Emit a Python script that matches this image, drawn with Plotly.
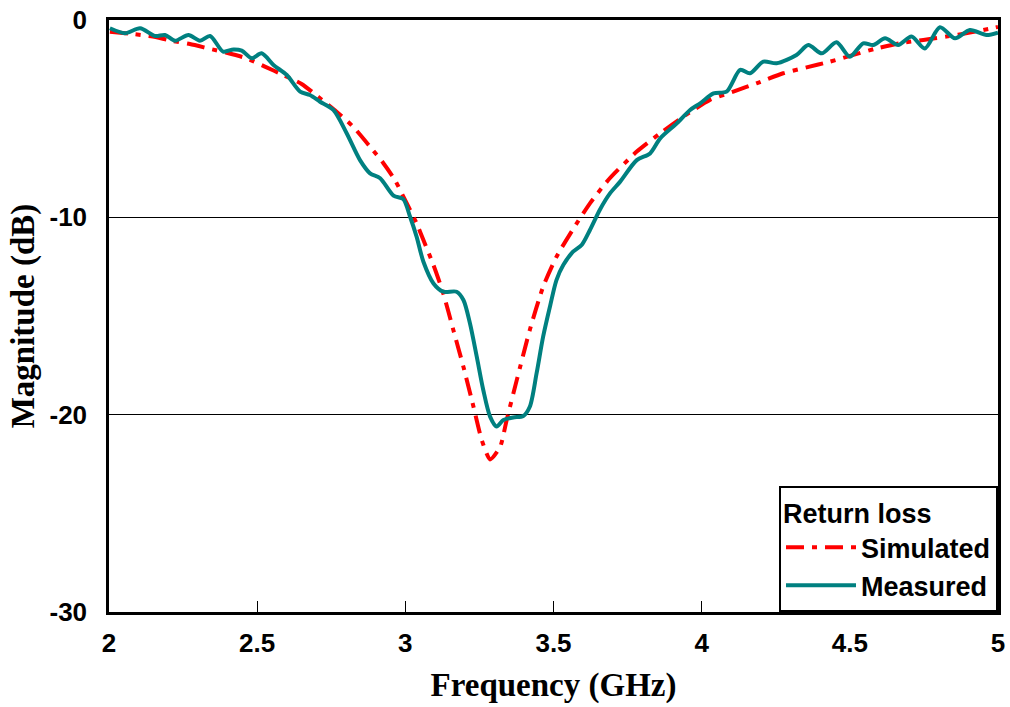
import plotly.graph_objects as go

# Measured return loss (GHz, dB)
meas_f = [2.003, 2.054, 2.105, 2.155, 2.189, 2.223, 2.268, 2.307, 2.341, 2.385, 2.42, 2.448,
          2.482, 2.515, 2.555, 2.6, 2.645, 2.678, 2.712, 2.757, 2.802, 2.847, 2.881, 2.915,
          2.96, 2.993, 3.016, 3.038, 3.061, 3.095, 3.128, 3.173, 3.196, 3.218, 3.241, 3.263,
          3.286, 3.308, 3.331, 3.364, 3.398, 3.42, 3.443, 3.465, 3.488, 3.51, 3.533, 3.566,
          3.595, 3.623, 3.657, 3.69, 3.725, 3.781, 3.826, 3.86, 3.916, 3.961, 3.995, 4.04,
          4.084, 4.13, 4.163, 4.208, 4.253, 4.32, 4.36, 4.405, 4.455, 4.5, 4.545, 4.579,
          4.619, 4.663, 4.708, 4.753, 4.804, 4.855, 4.905, 4.961, 5.0]
meas_db = [-0.42, -0.67, -0.42, -0.81, -0.76, -1.05, -0.76, -1.05, -0.81, -1.6, -1.49, -1.55,
           -1.94, -1.69, -2.28, -2.79, -3.63, -3.8, -4.14, -4.56, -5.74, -7.1, -7.77, -8.02,
           -8.9, -9.08, -9.97, -10.98, -12.25, -13.35, -13.77, -13.77, -14.19, -15.37, -17.06, -18.75,
           -20.1, -20.6, -20.27, -20.14, -20.07, -19.6, -17.9, -16.05, -14.53, -13.18, -12.42, -11.74,
           -11.4, -10.64, -9.6, -8.8, -8.19, -7.1, -6.76, -6.0, -5.24, -4.56, -4.22, -3.72,
           -3.63, -2.53, -2.7, -2.11, -2.19, -1.77, -1.27, -1.69, -1.13, -1.86, -1.18, -1.27,
           -0.93, -1.27, -0.84, -1.44, -0.37, -0.93, -0.51, -0.76, -0.64]

# Simulated return loss (GHz, dB)
sim_f = [2.003, 2.08, 2.148, 2.21, 2.273, 2.335, 2.397, 2.464, 2.526, 2.588, 2.65, 2.706,
         2.768, 2.824, 2.881, 2.926, 2.965, 2.999, 3.038, 3.061, 3.095, 3.128, 3.162, 3.196,
         3.23, 3.258, 3.286, 3.32, 3.342, 3.376, 3.42, 3.465, 3.51, 3.566, 3.623, 3.69,
         3.781, 3.86, 3.938, 4.028, 4.107, 4.185, 4.275, 4.354, 4.433, 4.512, 4.59, 4.669,
         4.748, 4.826, 4.905, 4.978, 5.0]
sim_db = [-0.59, -0.71, -0.84, -1.05, -1.22, -1.44, -1.66, -1.94, -2.36, -2.79, -3.24, -3.89,
          -4.65, -5.41, -6.42, -7.26, -8.11, -9.12, -10.3, -11.15, -12.42, -13.85, -15.71, -17.57,
          -19.6, -21.29, -22.27, -21.63, -20.27, -18.25, -15.71, -13.52, -12.0, -10.6, -9.29, -8.02,
          -6.67, -5.74, -4.9, -4.05, -3.63, -3.21, -2.7, -2.4, -2.11, -1.77, -1.44, -1.18,
          -1.01, -0.84, -0.64, -0.42, -0.35]

x_ticks = [2, 2.5, 3, 3.5, 4, 4.5, 5]
y_ticks = [0, -10, -20, -30]

fig = go.Figure()
fig.add_trace(go.Scatter(
    x=sim_f, y=sim_db, mode="lines", name="Simulated",
    line=dict(color="#ff0000", width=4, dash="18px,8px,5px,8px", shape="spline", smoothing=0.6),
))
fig.add_trace(go.Scatter(
    x=meas_f, y=meas_db, mode="lines", name="Measured",
    line=dict(color="#008080", width=4, shape="spline", smoothing=0.8),
))

sans = "Liberation Sans, Arial, sans-serif"
serif = "Liberation Serif, Times New Roman, serif"
tick_font = dict(family=sans, size=26, color="black", weight="bold")
title_font = dict(family=serif, size=33, color="black", weight="bold")
legend_font = dict(family=sans, size=27, color="black", weight="bold")

fig.update_layout(
    width=1010, height=707,
    margin=dict(l=109, r=12, t=20, b=95),
    paper_bgcolor="white", plot_bgcolor="white",
    showlegend=True,
    legend=dict(
        title=dict(text="<b>Return loss</b>", font=legend_font),
        font=legend_font,
        x=1.0, y=0.0, xanchor="right", yanchor="bottom",
        bgcolor="white", bordercolor="black", borderwidth=2,
        itemwidth=70, tracegroupgap=0,
    ),
    xaxis=dict(
        range=[2, 5], tickvals=x_ticks, ticktext=[f"<b>{v}</b>" for v in x_ticks],
        showgrid=False, zeroline=False, automargin=False,
        showline=True, linecolor="black", linewidth=2.5, mirror=True,
        ticks="inside", ticklen=11, tickwidth=1, tickcolor="black",
        tickfont=tick_font, ticklabelstandoff=6,
        title=dict(text="<b>Frequency (GHz)</b>", font=title_font, standoff=16),
    ),
    yaxis=dict(
        range=[-30, 0], tickvals=y_ticks, ticktext=[f"<b>{v}</b>" for v in y_ticks],
        showgrid=True, gridcolor="black", gridwidth=1, zeroline=False, automargin=False,
        showline=True, linecolor="black", linewidth=2.5, mirror=True,
        ticks="", tickfont=tick_font, ticklabelstandoff=14,
        title=dict(text="<b>Magnitude (dB)</b>", font=title_font, standoff=5),
    ),
)

fig.write_html("out.html")
